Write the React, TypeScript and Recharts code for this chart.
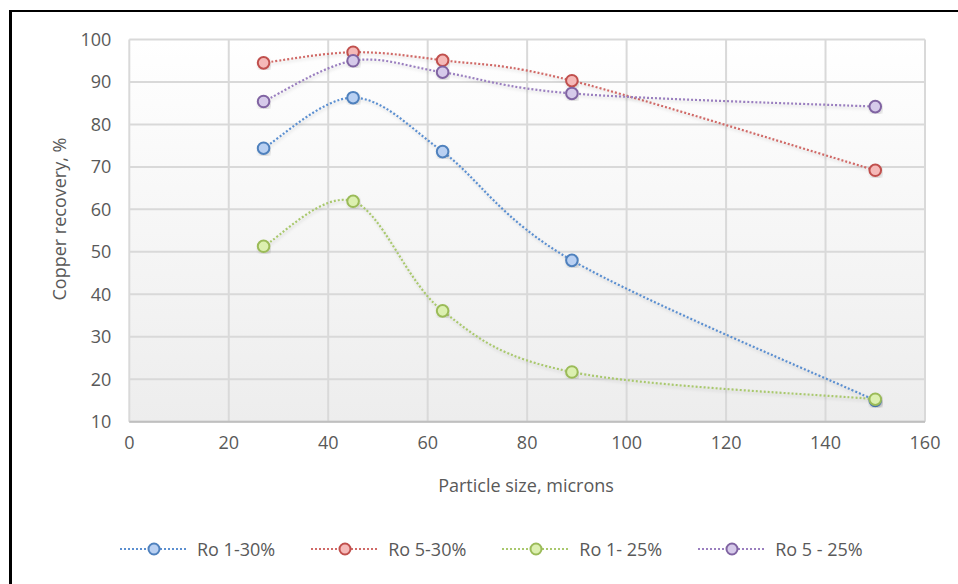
import React from "react";
import {
  LineChart,
  Line,
  XAxis,
  YAxis,
  CartesianGrid,
  Legend,
} from "recharts";

// Particle sizes (microns)
const sizes = [27, 45, 63, 89, 150];

// Copper recovery, % for each flotation condition
const ro1_30 = [74.4, 86.3, 73.6, 48.0, 15.0];
const ro5_30 = [94.5, 97.0, 95.1, 90.3, 69.2];
const ro1_25 = [51.3, 61.9, 36.1, 21.7, 15.3];
const ro5_25 = [85.4, 95.0, 92.3, 87.3, 84.2];

const seriesNames = ["Ro 1-30%", "Ro 5-30%", "Ro 1- 25%", "Ro 5 - 25%"];
const xTicks = [0, 20, 40, 60, 80, 100, 120, 140, 160];
const yTicks = [10, 20, 30, 40, 50, 60, 70, 80, 90, 100];

const data = sizes.map((s, i) => ({
  size: s,
  a: ro1_30[i],
  b: ro5_30[i],
  c: ro1_25[i],
  d: ro5_25[i],
}));

const series = [
  { key: "a", name: seriesNames[0], stroke: "#4f81bd", fill: "#b9d0f2", line: "#5b8fd0" },
  { key: "b", name: seriesNames[1], stroke: "#c0504d", fill: "#f5b9b8", line: "#d06a67" },
  { key: "c", name: seriesNames[2], stroke: "#9bbb59", fill: "#dcf0b0", line: "#a9c86e" },
  { key: "d", name: seriesNames[3], stroke: "#8064a2", fill: "#d6caea", line: "#9a7fbf" },
];

const FONT = "'Open Sans', sans-serif";
const TEXT = "#595959";

// Catmull-Rom style smoothing (spreadsheet "smoothed line")
function smoothCurve(context: any) {
  let pts: number[][] = [];
  return {
    areaStart() {},
    areaEnd() {},
    lineStart() {
      pts = [];
    },
    point(x: number, y: number) {
      pts.push([+x, +y]);
    },
    lineEnd() {
      if (!pts.length) return;
      context.moveTo(pts[0][0], pts[0][1]);
      for (let i = 0; i < pts.length - 1; i++) {
        const p0 = pts[i - 1] || pts[i];
        const p1 = pts[i];
        const p2 = pts[i + 1];
        const p3 = pts[i + 2] || p2;
        const c1x = p1[0] + (p2[0] - p0[0]) / 6;
        const c1y = p1[1] + (p2[1] - p0[1]) / 6;
        const c2x = p2[0] - (p3[0] - p1[0]) / 6;
        const c2y = p2[1] - (p3[1] - p1[1]) / 6;
        context.bezierCurveTo(c1x, c1y, c2x, c2y, p2[0], p2[1]);
      }
    },
  };
}

function LegendContent() {
  return (
    <div
      style={{
        position: "absolute",
        left: 120,
        top: 537,
        display: "flex",
        alignItems: "center",
        fontFamily: FONT,
        fontSize: 18,
        color: TEXT,
        whiteSpace: "nowrap",
      }}
    >
      {series.map((s) => (
        <div key={s.key} style={{ display: "flex", alignItems: "center", marginRight: 36 }}>
          <svg width={68} height={24} style={{ marginRight: 9 }}>
            <line x1={0} y1={12} x2={68} y2={12} stroke={s.line} strokeWidth={2} strokeDasharray="2 2" />
            <circle cx={34} cy={12} r={5.5} fill={s.fill} stroke={s.stroke} strokeWidth={2} />
          </svg>
          <span>{s.name}</span>
        </div>
      ))}
    </div>
  );
}

export default function App() {
  return (
    <div
      style={{
        position: "fixed",
        left: 0,
        top: 0,
        width: 958,
        height: 584,
        background: "#ffffff",
        overflow: "hidden",
      }}
    >
      <div style={{ position: "absolute", left: 10, top: 10, width: 960, height: 2, background: "#000" }} />
      <div style={{ position: "absolute", left: 9, top: 10, width: 3, height: 600, background: "#000" }} />

      <LineChart
        width={958}
        height={584}
        data={data}
        margin={{ top: 39.5, right: 33, left: 69.3, bottom: 132.3 }}
        style={{ position: "absolute", left: 0, top: 0 }}
      >
        <defs>
          <linearGradient id="plotBg" x1="0" y1="0" x2="0" y2="1">
            <stop offset="0%" stopColor="#ffffff" />
            <stop offset="100%" stopColor="#ededed" />
          </linearGradient>
          <filter id="markShadow" x="-50%" y="-50%" width="200%" height="200%">
            <feDropShadow dx="1" dy="2" stdDeviation="1.6" floodColor="#000" floodOpacity="0.35" />
          </filter>
          <filter id="lineShadow" x="-10%" y="-10%" width="120%" height="120%">
            <feDropShadow dx="1" dy="2" stdDeviation="1.5" floodColor="#000" floodOpacity="0.15" />
          </filter>
        </defs>
        <CartesianGrid stroke="#d9d9d9" strokeWidth={2} fill="url(#plotBg)" fillOpacity={1} />
        <XAxis
          dataKey="size"
          type="number"
          domain={[0, 160]}
          ticks={xTicks}
          height={30}
          tickLine={false}
          tickSize={0}
          tickMargin={15}
          axisLine={{ stroke: "#bfbfbf", strokeWidth: 2 }}
          tick={{ fill: TEXT, fontSize: 18, fontFamily: FONT }}
          interval={0}
        />
        <YAxis
          type="number"
          domain={[10, 100]}
          ticks={yTicks}
          width={60}
          tickLine={false}
          tickSize={0}
          tickMargin={18}
          axisLine={false}
          tick={{ fill: TEXT, fontSize: 18, fontFamily: FONT }}
          interval={0}
        />
        <Legend content={() => null} />
        {series.map((s) => (
          <Line
            key={s.key}
            dataKey={s.key}
            name={s.name}
            type={smoothCurve as any}
            stroke={s.line}
            strokeWidth={2.2}
            strokeDasharray="2 2"
            style={{ filter: "url(#lineShadow)" }}
            dot={{
              r: 5.8,
              fill: s.fill,
              stroke: s.stroke,
              strokeWidth: 2,
              strokeDasharray: "0",
              filter: "url(#markShadow)",
            }}
            activeDot={false}
            isAnimationActive={false}
          />
        ))}
      </LineChart>

      <div
        style={{
          position: "absolute",
          left: 59,
          top: 219,
          transform: "translate(-50%, -50%) rotate(-90deg)",
          fontFamily: FONT,
          fontSize: 18,
          color: TEXT,
          whiteSpace: "nowrap",
        }}
      >
        Copper recovery, %
      </div>
      <div
        style={{
          position: "absolute",
          left: 526,
          top: 485,
          transform: "translate(-50%, -50%)",
          fontFamily: FONT,
          fontSize: 18,
          color: TEXT,
          whiteSpace: "nowrap",
        }}
      >
        Particle size, microns
      </div>
      <LegendContent />
    </div>
  );
}
